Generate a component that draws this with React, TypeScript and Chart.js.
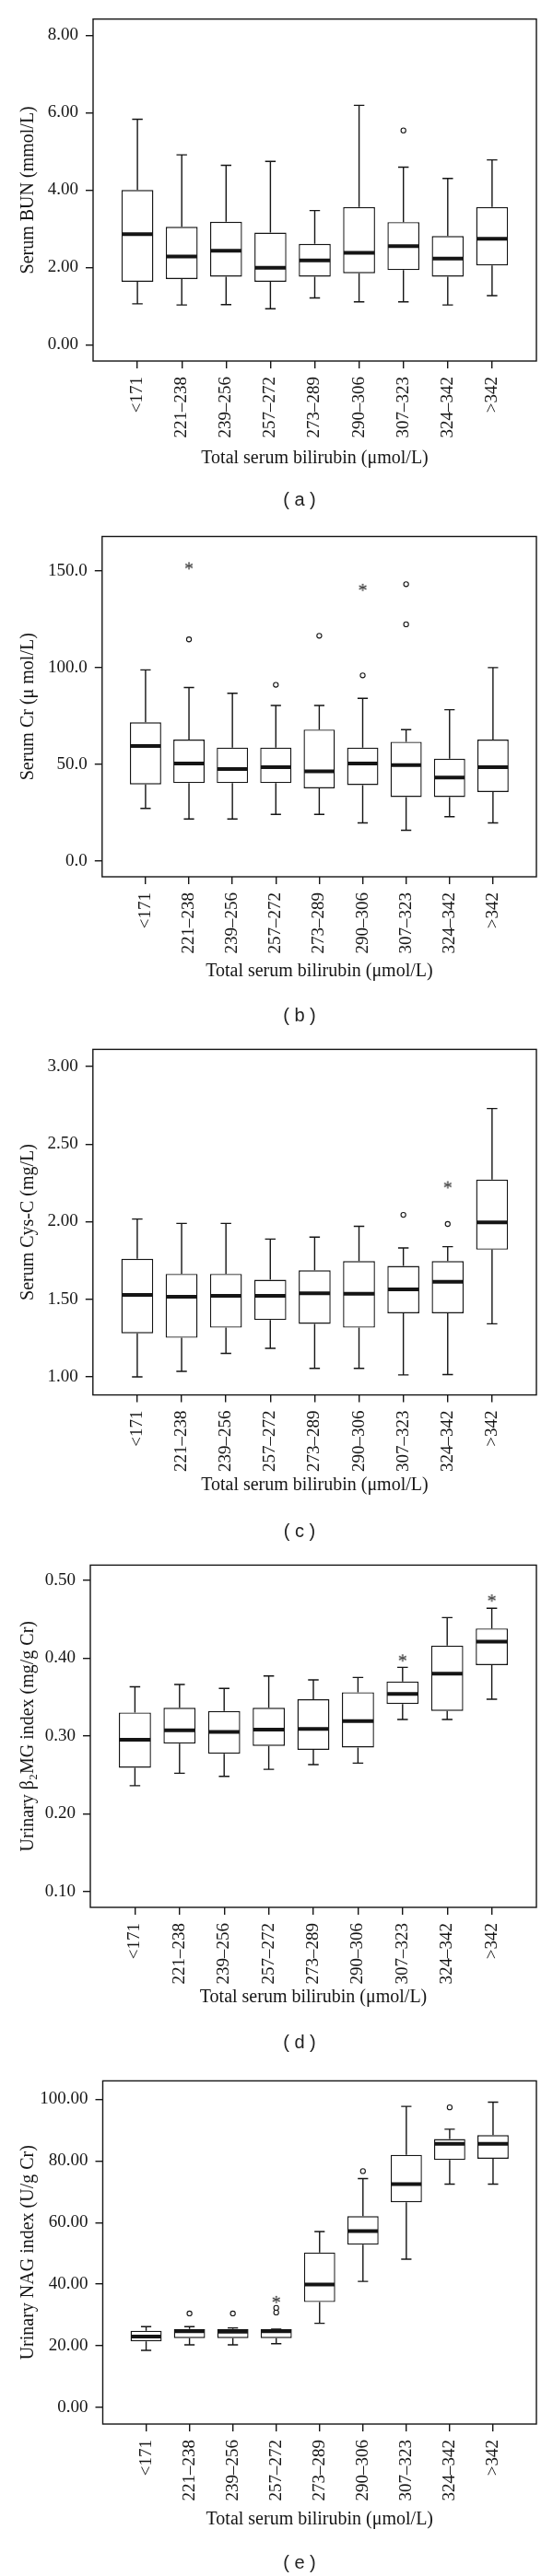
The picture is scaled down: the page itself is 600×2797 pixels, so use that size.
import React, { useEffect, useRef } from 'react';
import { Chart, registerables } from 'chart.js';

Chart.register(...registerables);

const INK = '#151515';
const SERIF = '"Liberation Serif", "Times New Roman", serif';

const groups = ['<171', '221–238', '239–256', '257–272', '273–289', '290–306', '307–323', '324–342', '>342'];
const xTitle = 'Total serum bilirubin (μmol/L)';

// (a) Serum BUN
const bunLow = [1.06, 1.03, 1.04, 0.93, 1.21, 1.11, 1.11, 1.03, 1.27];
const bunQ1 = [1.63, 1.70, 1.76, 1.63, 1.76, 1.85, 1.93, 1.76, 2.05];
const bunMedian = [2.86, 2.28, 2.43, 1.99, 2.18, 2.38, 2.55, 2.23, 2.74];
const bunQ3 = [4.00, 3.05, 3.18, 2.90, 2.61, 3.56, 3.17, 2.81, 3.56];
const bunHigh = [5.83, 4.91, 4.64, 4.74, 3.47, 6.19, 4.59, 4.30, 4.78];
const bunCircleGroup = [6];
const bunCircleValue = [5.54];
const bunStarGroup: number[] = [];
const bunStarValue: number[] = [];
const bunTicks = [0, 2, 4, 6, 8];

// (b) Serum Cr
const crLow = [27.1, 21.6, 21.6, 24.0, 24.0, 19.6, 15.8, 22.8, 19.6];
const crQ1 = [39.5, 40.2, 40.2, 40.2, 37.5, 39.2, 33.0, 33.0, 35.6];
const crMedian = [59.4, 50.4, 47.5, 48.4, 46.3, 50.4, 49.5, 43.1, 48.4];
const crQ3 = [71.7, 62.7, 58.6, 58.6, 67.9, 58.6, 61.6, 52.8, 62.7];
const crHigh = [98.8, 89.7, 86.7, 80.4, 80.4, 84.1, 67.9, 78.2, 100.0];
const crCircleGroup = [1, 3, 4, 5, 6, 6];
const crCircleValue = [114.6, 91.1, 116.5, 96.0, 143.2, 122.4];
const crStarGroup = [1, 5];
const crStarValue = [152.7, 141.5];
const crTicks = [0, 50, 100, 150];

// (c) Serum Cys-C
const cysLow = [1.00, 1.036, 1.152, 1.184, 1.055, 1.055, 1.013, 1.015, 1.342];
const cysQ1 = [1.281, 1.252, 1.317, 1.366, 1.342, 1.317, 1.410, 1.410, 1.820];
const cysMedian = [1.529, 1.516, 1.522, 1.522, 1.539, 1.535, 1.564, 1.613, 1.996];
const cysQ3 = [1.761, 1.664, 1.664, 1.626, 1.687, 1.746, 1.715, 1.746, 2.271];
const cysHigh = [2.017, 1.989, 1.989, 1.888, 1.901, 1.970, 1.831, 1.839, 2.729];
const cysCircleGroup = [6, 7];
const cysCircleValue = [2.044, 1.985];
const cysStarGroup = [7];
const cysStarValue = [2.237];
const cysTicks = [1.0, 1.5, 2.0, 2.5, 3.0];

// (d) Urinary beta2-MG index
const b2Low = [0.236, 0.252, 0.248, 0.257, 0.263, 0.265, 0.321, 0.321, 0.347];
const b2Q1 = [0.259, 0.290, 0.277, 0.287, 0.282, 0.285, 0.341, 0.332, 0.391];
const b2Median = [0.295, 0.307, 0.305, 0.308, 0.309, 0.319, 0.354, 0.380, 0.421];
const b2Q3 = [0.330, 0.336, 0.332, 0.336, 0.347, 0.356, 0.370, 0.416, 0.438];
const b2High = [0.363, 0.366, 0.361, 0.377, 0.372, 0.375, 0.388, 0.452, 0.464];
const b2CircleGroup: number[] = [];
const b2CircleValue: number[] = [];
const b2StarGroup = [6, 8];
const b2StarValue = [0.400, 0.477];
const b2Ticks = [0.1, 0.2, 0.3, 0.4, 0.5];

// (e) Urinary NAG index
const nagLow = [18.5, 20.3, 20.3, 20.7, 27.3, 40.9, 48.1, 72.5, 72.5];
const nagQ1 = [21.4, 22.5, 22.5, 22.5, 34.2, 52.8, 66.6, 80.3, 80.7];
const nagMedian = [23.0, 24.7, 24.6, 24.7, 39.9, 57.2, 72.5, 85.6, 85.6];
const nagQ3 = [24.9, 25.5, 25.5, 25.4, 50.3, 62.1, 82.0, 87.1, 88.4];
const nagHigh = [26.2, 26.2, 25.8, 25.4, 57.1, 74.3, 97.7, 90.3, 99.1];
const nagCircleGroup = [1, 2, 3, 3, 5, 7];
const nagCircleValue = [30.5, 30.5, 30.8, 32.3, 76.7, 97.4];
const nagStarGroup = [3];
const nagStarValue = [35.0];
const nagTicks = [0, 20, 40, 60, 80, 100];

type PanelDef = {
  top: number;
  height: number;
  frame: { left: number; top: number; right: number; bottom: number };
  yMin: number;
  yMax: number;
  yTicks: number[];
  decimals: number;
  yTitle: string;
  xTitleY: number;
  label: string;
  labelY: number;
  low: number[];
  q1: number[];
  median: number[];
  q3: number[];
  high: number[];
  circleGroup: number[];
  circleValue: number[];
  starGroup: number[];
  starValue: number[];
};

const panels: PanelDef[] = [
  {
    top: 0, height: 560, frame: { left: 101, top: 20.7, right: 582, bottom: 392 },
    yMin: -0.42, yMax: 8.42, yTicks: bunTicks, decimals: 2, yTitle: 'Serum BUN (mmol/L)',
    xTitleY: 498, label: '( a )', labelY: 543,
    low: bunLow, q1: bunQ1, median: bunMedian, q3: bunQ3, high: bunHigh,
    circleGroup: bunCircleGroup, circleValue: bunCircleValue, starGroup: bunStarGroup, starValue: bunStarValue,
  },
  {
    top: 560, height: 560, frame: { left: 110.8, top: 22.5, right: 582, bottom: 392 },
    yMin: -8.3, yMax: 167.9, yTicks: crTicks, decimals: 1, yTitle: 'Serum Cr (μ mol/L)',
    xTitleY: 494.6, label: '( b )', labelY: 543,
    low: crLow, q1: crQ1, median: crMedian, q3: crQ3, high: crHigh,
    circleGroup: crCircleGroup, circleValue: crCircleValue, starGroup: crStarGroup, starValue: crStarValue,
  },
  {
    top: 1120, height: 560, frame: { left: 100.8, top: 18.6, right: 582, bottom: 394.6 },
    yMin: 0.884, yMax: 3.11, yTicks: cysTicks, decimals: 2, yTitle: 'Serum Cys-C (mg/L)',
    xTitleY: 493, label: '( c )', labelY: 543,
    low: cysLow, q1: cysQ1, median: cysMedian, q3: cysQ3, high: cysHigh,
    circleGroup: cysCircleGroup, circleValue: cysCircleValue, starGroup: cysStarGroup, starValue: cysStarValue,
  },
  {
    top: 1680, height: 560, frame: { left: 98, top: 16.4, right: 582, bottom: 391 },
    yMin: 0.0796, yMax: 0.5194, yTicks: b2Ticks, decimals: 2, yTitle: 'Urinary β₂MG index (mg/g Cr)',
    xTitleY: 489, label: '( d )', labelY: 538,
    low: b2Low, q1: b2Q1, median: b2Median, q3: b2Q3, high: b2High,
    circleGroup: b2CircleGroup, circleValue: b2CircleValue, starGroup: b2StarGroup, starValue: b2StarValue,
  },
  {
    top: 2240, height: 557, frame: { left: 111.5, top: 14.3, right: 582, bottom: 392 },
    yMin: -5.4, yMax: 106, yTicks: nagTicks, decimals: 2, yTitle: 'Urinary NAG index (U/g Cr)',
    xTitleY: 496, label: '( e )', labelY: 543,
    low: nagLow, q1: nagQ1, median: nagMedian, q3: nagQ3, high: nagHigh,
    circleGroup: nagCircleGroup, circleValue: nagCircleValue, starGroup: nagStarGroup, starValue: nagStarValue,
  },
];

function makeStar(): HTMLCanvasElement {
  const c = document.createElement('canvas');
  c.width = 12;
  c.height = 12;
  const ctx = c.getContext('2d')!;
  ctx.font = '20px ' + SERIF;
  ctx.fillStyle = INK;
  ctx.textBaseline = 'alphabetic';
  ctx.textAlign = 'left';
  const m = ctx.measureText('*');
  const w = m.actualBoundingBoxRight + m.actualBoundingBoxLeft;
  const h = m.actualBoundingBoxAscent + m.actualBoundingBoxDescent;
  ctx.fillText('*', (12 - w) / 2 + m.actualBoundingBoxLeft, (12 - h) / 2 + m.actualBoundingBoxAscent);
  return c;
}

function Panel({ def }: { def: PanelDef }) {
  const ref = useRef<HTMLCanvasElement>(null);

  useEffect(() => {
    const canvas = ref.current!;
    const f = def.frame;
    const star = makeStar();
    const tickFont = { family: SERIF, size: 19 };
    const titleFont = { family: SERIF, size: 20 };

    const boxPlugin = {
      id: 'boxWhisker',
      afterDatasetsDraw(chart: any) {
        const meta = chart.getDatasetMeta(0);
        const ys = chart.scales.y;
        const ctx = chart.ctx;
        ctx.save();
        ctx.strokeStyle = INK;
        ctx.lineCap = 'butt';
        meta.data.forEach((bar: any, i: number) => {
          const { x, width } = bar.getProps(['x', 'width'], true);
          const half = width / 2;
          const cap = width * 0.165;
          const pLow = ys.getPixelForValue(def.low[i]);
          const pQ1 = ys.getPixelForValue(def.q1[i]);
          const pMed = ys.getPixelForValue(def.median[i]);
          const pQ3 = ys.getPixelForValue(def.q3[i]);
          const pHigh = ys.getPixelForValue(def.high[i]);
          ctx.lineWidth = 1.4;
          ctx.beginPath();
          ctx.moveTo(x, pQ3);
          ctx.lineTo(x, pHigh);
          ctx.moveTo(x - cap, pHigh);
          ctx.lineTo(x + cap, pHigh);
          ctx.moveTo(x, pQ1);
          ctx.lineTo(x, pLow);
          ctx.moveTo(x - cap, pLow);
          ctx.lineTo(x + cap, pLow);
          ctx.stroke();
          ctx.lineWidth = 4;
          ctx.beginPath();
          ctx.moveTo(x - half + 0.7, pMed);
          ctx.lineTo(x + half - 0.7, pMed);
          ctx.stroke();
        });
        ctx.restore();
      },
    };

    const framePlugin = {
      id: 'frame',
      afterDraw(chart: any) {
        const a = chart.chartArea;
        const ctx = chart.ctx;
        ctx.save();
        ctx.strokeStyle = INK;
        ctx.lineWidth = 1.4;
        ctx.strokeRect(a.left, a.top, a.right - a.left, a.bottom - a.top);
        ctx.restore();
      },
    };

    const chart = new Chart(canvas, {
      type: 'bar',
      data: {
        datasets: [
          {
            type: 'bar',
            data: groups.map((_, i) => ({ x: i, y: [def.q1[i], def.q3[i]] })) as any,
            backgroundColor: '#ffffff',
            borderColor: INK,
            borderWidth: 1.4,
            borderSkipped: false,
            barPercentage: 0.72,
            categoryPercentage: 1,
          } as any,
          {
            type: 'scatter',
            data: def.circleGroup.map((g, k) => ({ x: g, y: def.circleValue[k] })),
            pointStyle: 'circle',
            pointRadius: 2.6,
            pointBorderWidth: 1.1,
            pointBackgroundColor: '#ffffff',
            pointBorderColor: INK,
            showLine: false,
          } as any,
          {
            type: 'scatter',
            data: def.starGroup.map((g, k) => ({ x: g, y: def.starValue[k] })),
            pointStyle: star,
            pointRadius: 5,
            showLine: false,
          } as any,
        ],
      },
      options: {
        responsive: false,
        animation: false,
        events: [],
        layout: { padding: { top: f.top, right: 600 - f.right, bottom: 0, left: 0 } },
        plugins: { legend: { display: false }, tooltip: { enabled: false } },
        scales: {
          x: {
            type: 'linear',
            min: -1,
            max: 9,
            offset: false,
            afterBuildTicks: (s: any) => {
              s.ticks = groups.map((_, i) => ({ value: i }));
            },
            afterFit: (s: any) => {
              s.height = def.height - f.bottom;
            },
            ticks: {
              autoSkip: false,
              minRotation: 90,
              maxRotation: 90,
              padding: 9,
              color: INK,
              font: tickFont,
              callback: (v: any) => groups[v] ?? '',
            },
            grid: { display: true, offset: false, drawOnChartArea: false, drawTicks: true, tickLength: 8, color: INK, lineWidth: 1.4 },
            border: { display: false },
            title: {
              display: true,
              text: xTitle,
              color: INK,
              font: titleFont,
              padding: { top: 0, bottom: def.height - def.xTitleY - 12 },
            },
          } as any,
          y: {
            type: 'linear',
            min: def.yMin,
            max: def.yMax,
            afterBuildTicks: (s: any) => {
              s.ticks = def.yTicks.map((v) => ({ value: v }));
            },
            afterFit: (s: any) => {
              s.width = f.left;
            },
            ticks: {
              padding: 8,
              color: INK,
              font: tickFont,
              callback: (v: any) => Number(v).toFixed(def.decimals),
            },
            grid: { display: true, drawOnChartArea: false, drawTicks: true, tickLength: 8, color: INK, lineWidth: 1.4 },
            border: { display: false },
            title: {
              display: true,
              text: def.yTitle,
              color: INK,
              font: titleFont,
              padding: { top: 19, bottom: 0 },
            },
          } as any,
        },
      },
      plugins: [boxPlugin, framePlugin],
    });

    return () => chart.destroy();
  }, [def]);

  return (
    <div style={{ position: 'absolute', left: 0, top: def.top, width: 600, height: def.height }}>
      <canvas ref={ref} width={600} height={def.height} style={{ display: 'block', width: 600, height: def.height }} />
      <div
        style={{
          position: 'absolute',
          left: 275,
          width: 100,
          top: def.labelY - 12,
          height: 24,
          lineHeight: '24px',
          textAlign: 'center',
          font: '20px "Liberation Sans", Arial, sans-serif',
          color: '#222',
          whiteSpace: 'pre',
        }}
      >
        {def.label}
      </div>
    </div>
  );
}

export default function App() {
  useEffect(() => {
    document.body.style.margin = '0';
    document.body.style.background = '#ffffff';
  }, []);
  return (
    <div style={{ position: 'relative', width: 600, height: 2797, background: '#fff', overflow: 'hidden' }}>
      {panels.map((p) => (
        <Panel key={p.label} def={p} />
      ))}
    </div>
  );
}
